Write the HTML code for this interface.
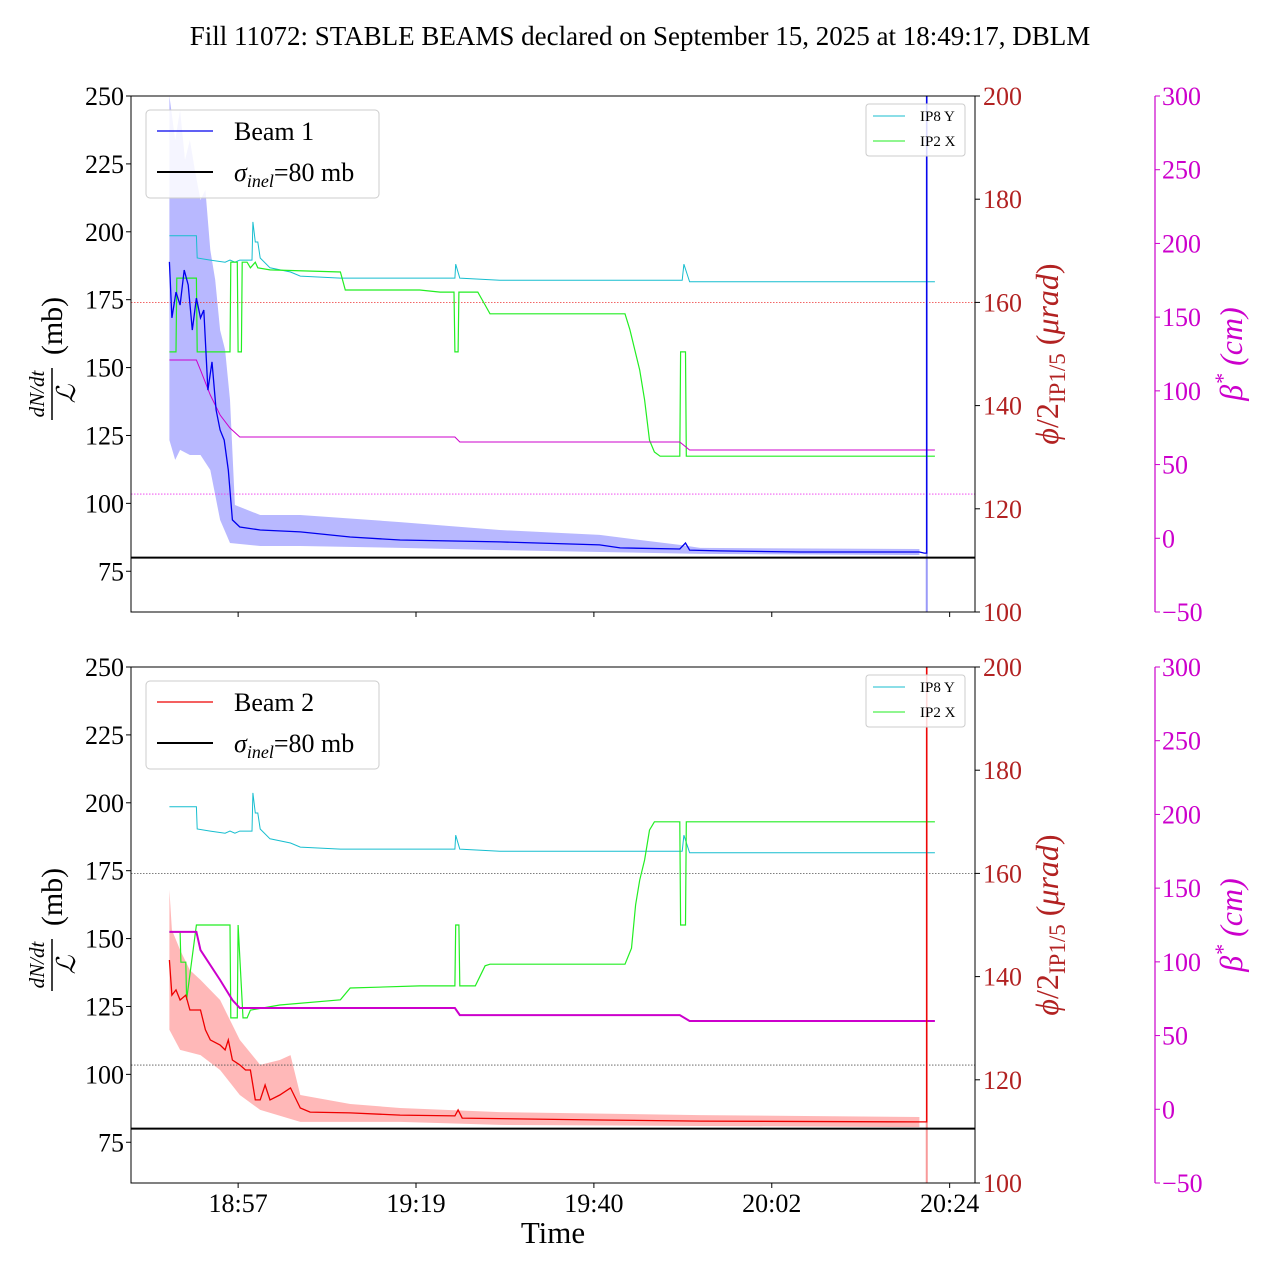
<!DOCTYPE html>
<html><head><meta charset="utf-8"><style>
body{margin:0;background:#fff}
svg{display:block;font-family:"Liberation Serif","DejaVu Serif",serif}
</style></head><body>
<svg id="chart" width="1280" height="1280" viewBox="0 0 1280 1280" xmlns="http://www.w3.org/2000/svg">
<text x="640" y="45" text-anchor="middle" font-size="27">Fill 11072: STABLE BEAMS declared on September 15, 2025 at 18:49:17, DBLM</text>
<text x="553" y="1243" text-anchor="middle" font-size="31">Time</text>
</svg>
<script>
// ---- data (time in minutes after 18:49) ----
const timeTickLabels = ["18:57","19:19","19:40","20:02","20:24"];
const timeTickValues = [8,29.75,51.5,73.25,95];
const leftTicks = [75,100,125,150,175,200,225,250];
const phiTicks = [100,120,140,160,180,200];
const betaTicks = [-50,0,50,100,150,200,250,300];

const ip8yT = [-0.4,2.9,3.0,4.6,6.4,7.0,7.6,8.2,9.7,9.8,10.1,10.4,10.7,11.9,14.4,15.6,20.5,30.2,34.5,34.6,35.1,40.0,52.2,62.3,62.5,63.2,71.8,93.2];
const ip8yV = [172.9,172.9,168.6,168.2,167.8,168.2,167.8,168.2,168.2,175.6,171.7,171.7,168.6,166.7,165.9,165.1,164.7,164.7,164.7,167.4,164.7,164.3,164.3,164.3,167.4,164.0,164.0,164.0];

const ip2x1T = [-0.4,0.4,0.5,2.9,3.0,7.0,7.1,7.9,8.0,8.4,8.5,9.1,9.5,10.1,10.4,11.9,20.5,21.1,30.2,32.7,34.4,34.5,34.9,35.0,37.3,38.2,38.8,55.3,55.9,56.5,57.1,57.7,58.3,58.9,59.6,62.0,62.1,62.7,62.8,93.2];
const ip2x1V = [150.4,150.4,164.7,164.7,150.4,150.4,167.8,167.8,150.4,150.4,167.8,167.8,166.7,167.8,166.7,166.3,165.9,162.4,162.4,162.0,162.0,150.4,150.4,162.0,162.0,159.5,157.8,157.8,154.7,150.8,146.9,141.1,133.3,131.0,130.2,130.2,150.4,150.4,130.2,130.2];

const ip2x2T = [-0.4,0.9,1.0,1.6,1.7,2.9,7.0,7.1,7.9,8.0,8.6,9.1,9.5,13.1,20.5,21.7,30.2,34.5,34.6,35.0,35.1,37.0,38.2,38.8,55.3,56.1,56.6,57.1,57.7,58.3,58.9,62.0,62.1,62.7,62.8,93.2];
const ip2x2V = [148.6,148.6,142.8,142.8,135.5,150.0,150.0,132.0,132.0,150.0,132.0,132.0,133.5,134.5,135.5,137.8,138.2,138.2,150.0,150.0,138.2,138.2,142.1,142.4,142.4,145.5,153.9,158.7,162.6,168.4,170.0,170.0,150.0,150.0,170.0,170.0];

const beta1T = [-0.4,2.9,3.4,4.6,5.8,7.0,8.2,34.5,35.1,62.0,63.2,93.2];
const beta1V = [120.9,120.9,114.1,97.2,83.6,74.8,68.7,68.7,65.3,65.3,59.9,59.9];
const beta2T = [-0.4,2.9,3.4,5.8,7.3,8.2,34.5,35.1,62.0,63.2,93.2];
const beta2V = [120.3,120.3,108.0,87.7,74.1,68.7,68.7,63.9,63.9,59.9,59.9];

const b1T = [-0.4,-0.1,0.4,0.9,1.4,1.9,2.4,2.9,3.4,3.8,4.3,4.8,5.3,5.8,6.3,6.8,7.3,8.2,10.7,15.6,21.7,27.8,40.0,52.2,54.7,62.0,62.7,63.2,66.9,76.7,91.3,91.9];
const b1V = [188.9,168.3,177.8,173.0,185.9,180.4,163.8,175.6,168.3,171.2,141.7,152.1,134.4,127.0,123.3,112.3,93.9,91.3,90.2,89.5,87.6,86.5,85.8,84.7,83.6,83.2,85.4,82.8,82.5,82.1,82.1,81.7];
const b1UpT = [-0.4,0.3,0.9,1.5,2.1,2.7,3.4,4.0,4.6,5.2,5.8,6.4,7.0,7.6,10.7,15.6,27.8,40.0,52.2,62.0,64.5,91.3];
const b1UpV = [250,233.8,244.8,226.4,233.8,222.8,211.7,215.4,193.3,182.3,163.8,156.5,138.1,99.4,95.7,95.7,93.1,90.2,88.4,84.7,83.6,83.2];
const b1LoT = [-0.4,0.3,0.9,2.1,3.4,4.6,5.8,7.0,10.7,15.6,27.8,40.0,52.2,64.5,91.3];
const b1LoV = [123.3,116.0,119.7,117.8,117.8,112.3,93.9,85.4,84.3,84.3,83.6,82.8,82.1,81.4,81.0];

const b2T = [-0.4,-0.1,0.4,0.9,1.6,2.1,3.4,4.0,4.6,5.8,6.4,6.8,7.3,8.2,8.9,9.5,10.1,10.7,11.3,11.9,13.1,14.4,15.6,16.8,21.7,27.8,34.5,34.9,35.4,52.2,64.5,91.3];
const b2V = [142.1,129.2,131.1,127.4,129.2,123.7,123.7,116.4,112.7,110.8,109.0,112.7,105.3,103.5,101.6,101.6,90.6,90.6,96.1,90.6,92.4,95.0,87.6,86.1,85.8,85.0,84.7,86.9,83.9,83.2,82.8,82.5];
const b2UpT = [-0.4,-0.1,0.9,2.1,3.4,5.8,8.2,10.7,13.1,14.4,15.6,21.7,27.8,40.0,64.5,91.3];
const b2UpV = [167.9,153.2,145.8,138.4,134.8,127.4,112.7,103.5,105.3,107.1,92.4,89.1,87.6,86.1,85.0,84.3];
const b2LoT = [-0.4,0.9,3.4,5.8,8.2,10.7,15.6,27.8,40.0,64.5,91.3];
const b2LoV = [116.4,109.0,107.1,101.6,92.4,86.9,82.5,82.5,81.4,81.0,80.6];

const spikeT = 92.2;
const sigmaInel = 80;
const crossing160 = 160;
const betaRef = 30;

// ---- rendering ----
const NS = "http://www.w3.org/2000/svg";
const svg = document.getElementById('chart');
const X0 = 131, X1 = 975, T0 = -5.1, T1 = 98.1;
const xS = t => X0 + (t - T0) / (T1 - T0) * (X1 - X0);

function mk(tag, attrs, parent) {
  const e = document.createElementNS(NS, tag);
  for (const k in attrs) e.setAttribute(k, attrs[k]);
  (parent || svg).appendChild(e);
  return e;
}
function pts(T, V, ys) { return T.map((t, i) => xS(t).toFixed(1) + ',' + ys(V[i]).toFixed(1)).join(' '); }

function panel(top, idx, beam) {
  const bot = top + 516;
  const yL = v => bot - (v - 60) / 190 * 516;
  const yP = v => bot - (v - 100) / 100 * 516;
  const yB = v => bot - (v + 50) / 350 * 516;
  const g = mk('g', {});
  
  
  const cid = 'clip' + idx;
  const cp = mk('clipPath', { id: cid }, g);
  mk('rect', { x: X0, y: top, width: X1 - X0, height: 516 }, cp);
  const plot = mk('g', { 'clip-path': 'url(#' + cid + ')' }, g);

  const bandPts = pts(beam.upT, beam.upV, yL) + ' ' + pts(beam.loT.slice().reverse(), beam.loV.slice().reverse(), yL);
  const band = mk('polygon', { points: bandPts, fill: beam.light, 'fill-opacity': 0.35, stroke: 'none' }, plot);
  
  
  const sp = mk('line', { x1: xS(spikeT), x2: xS(spikeT), y1: bot, y2: top, stroke: beam.color, 'stroke-opacity': 0.4, 'stroke-width': 2 }, plot);
  
  

  const rl = mk('line', { x1: X0, x2: X1, y1: yP(crossing160), y2: yP(crossing160), stroke: idx ? '#555' : '#e33', 'stroke-width': 0.8, 'stroke-dasharray': '1.5,1.5' }, plot);
  
  
  const bl = mk('line', { x1: X0, x2: X1, y1: yB(betaRef), y2: yB(betaRef), stroke: idx ? '#555' : '#e3e', 'stroke-width': 0.8, 'stroke-dasharray': '1.5,1.5' }, plot);
  
  

  const c = mk('polyline', { points: pts(ip8yT, ip8yV, yP), fill: 'none', stroke: '#17becf', 'stroke-width': 1 }, plot);
  
  
  const gr = mk('polyline', { points: pts(beam.gT, beam.gV, yP), fill: 'none', stroke: '#22ee22', 'stroke-width': 1.2 }, plot);
  
  
  const mg = mk('polyline', { points: pts(beam.bT, beam.bV, yB), fill: 'none', stroke: '#c0c', 'stroke-width': idx ? 2 : 1 }, plot);
  
  

  const ln = mk('polyline', { points: pts(beam.T.concat([spikeT, spikeT]), beam.V.concat([beam.V[beam.V.length - 1], 260]), yL), fill: 'none', stroke: beam.color, 'stroke-width': 1.3 }, plot);
  
  
  const sl = mk('line', { x1: X0, x2: X1, y1: yL(sigmaInel), y2: yL(sigmaInel), stroke: '#000', 'stroke-width': 2 }, plot);
  
  

  const fr = mk('rect', { x: X0, y: top, width: X1 - X0, height: 516, fill: 'none', stroke: '#000', 'stroke-width': 1 }, g);
  
  
  leftTicks.forEach(v => {
    mk('line', { x1: X0 - 5, x2: X0, y1: yL(v), y2: yL(v), stroke: '#000' }, g);
    const t = mk('text', { x: X0 - 7, y: yL(v) + 9, 'text-anchor': 'end', 'font-size': 26 }, g);
    t.textContent = v;
    
    
  });
  phiTicks.forEach(v => {
    mk('line', { x1: X1, x2: X1 + 5, y1: yP(v), y2: yP(v), stroke: '#000' }, g);
    const t = mk('text', { x: X1 + 8, y: yP(v) + 9, 'font-size': 26, fill: '#b22222' }, g);
    t.textContent = v;
    
    
  });
  const ba = mk('line', { x1: 1155, x2: 1155, y1: top, y2: bot, stroke: '#c0c', 'stroke-width': 1.2 }, g);
  
  
  betaTicks.forEach(v => {
    mk('line', { x1: 1155, x2: 1160, y1: yB(v), y2: yB(v), stroke: '#c0c' }, g);
    const t = mk('text', { x: 1162, y: yB(v) + 9, 'font-size': 26, fill: '#c0c' }, g);
    t.textContent = v < 0 ? '\u2212' + (-v) : v;
    
    
  });
  timeTickValues.forEach((v, i) => {
    mk('line', { x1: xS(v), x2: xS(v), y1: bot, y2: bot + 5, stroke: '#000' }, g);
    if (idx) {
      const t = mk('text', { x: xS(v), y: bot + 29, 'text-anchor': 'middle', 'font-size': 26 }, g);
      t.textContent = timeTickLabels[i];
      
      
    }
  });
  const cy = top + 258;
  const la = mk('g', { transform: 'translate(52,' + cy + ') rotate(-90)' }, g);
  
  
  const n = mk('text', { x: -40, y: -8, 'text-anchor': 'middle', 'font-size': 21, 'font-style': 'italic' }, la); n.textContent = 'dN/dt';
  mk('line', { x1: -66, x2: -14, y1: 0, y2: 0, stroke: '#000', 'stroke-width': 1.5 }, la);
  const d = mk('text', { x: -40, y: 23, 'text-anchor': 'middle', 'font-size': 26, 'font-style': 'italic' }, la); d.textContent = '\u2112';
  const mb = mk('text', { x: 28, y: 10, 'text-anchor': 'middle', 'font-size': 30 }, la); mb.textContent = '(mb)';
  const pa = mk('text', { transform: 'translate(1058,' + cy + ') rotate(-90)', 'text-anchor': 'middle', 'font-size': 32, fill: '#b22222' }, g);
  
  
  pa.innerHTML = '<tspan font-style="italic">\u03d5</tspan>/2<tspan font-size="23" dy="7">IP1/5</tspan><tspan dy="-7"> (</tspan><tspan font-style="italic">\u03bcrad</tspan>)';
  const bt = mk('text', { transform: 'translate(1242,' + cy + ') rotate(-90)', 'text-anchor': 'middle', 'font-size': 32, fill: '#c0c', 'font-style': 'italic' }, g);
  
  
  bt.innerHTML = '\u03b2<tspan font-size="22" dy="-12">*</tspan><tspan dy="12"> (cm)</tspan>';

  const lg = mk('g', {}, g);
  
  
  mk('rect', { x: 146, y: top + 14, width: 233, height: 88, rx: 4, fill: '#fff', 'fill-opacity': 0.85, stroke: '#ccc' }, lg);
  mk('line', { x1: 157, x2: 213, y1: top + 35, y2: top + 35, stroke: beam.color, 'stroke-width': 1.3 }, lg);
  const l1 = mk('text', { x: 234, y: top + 44, 'font-size': 26 }, lg); l1.textContent = beam.label;
  mk('line', { x1: 157, x2: 213, y1: top + 76, y2: top + 76, stroke: '#000', 'stroke-width': 2 }, lg);
  const l2 = mk('text', { x: 234, y: top + 85, 'font-size': 26 }, lg);
  l2.innerHTML = '<tspan font-style="italic">\u03c3</tspan><tspan font-style="italic" font-size="18" dy="6">inel</tspan><tspan dy="-6">=80 mb</tspan>';
  const sg = mk('g', {}, g);
  
  
  mk('rect', { x: 866, y: top + 8, width: 99, height: 52, rx: 3, fill: '#fff', 'fill-opacity': 0.85, stroke: '#ccc' }, sg);
  mk('line', { x1: 873, x2: 905, y1: top + 20, y2: top + 20, stroke: '#17becf' }, sg);
  const s1 = mk('text', { x: 920, y: top + 25, 'font-size': 15 }, sg); s1.textContent = 'IP8 Y';
  mk('line', { x1: 873, x2: 905, y1: top + 45, y2: top + 45, stroke: '#22ee22' }, sg);
  const s2 = mk('text', { x: 920, y: top + 50, 'font-size': 15 }, sg); s2.textContent = 'IP2 X';
}

panel(96, 0, { name: 'beam-1', label: 'Beam 1', color: '#0000ee', light: '#3333ff', T: b1T, V: b1V, upT: b1UpT, upV: b1UpV, loT: b1LoT, loV: b1LoV, gT: ip2x1T, gV: ip2x1V, bT: beta1T, bV: beta1V });
panel(667, 1, { name: 'beam-2', label: 'Beam 2', color: '#ee0000', light: '#ff3333', T: b2T, V: b2V, upT: b2UpT, upV: b2UpV, loT: b2LoT, loV: b2LoV, gT: ip2x2T, gV: ip2x2V, bT: beta2T, bV: beta2V });
</script>
</body></html>
